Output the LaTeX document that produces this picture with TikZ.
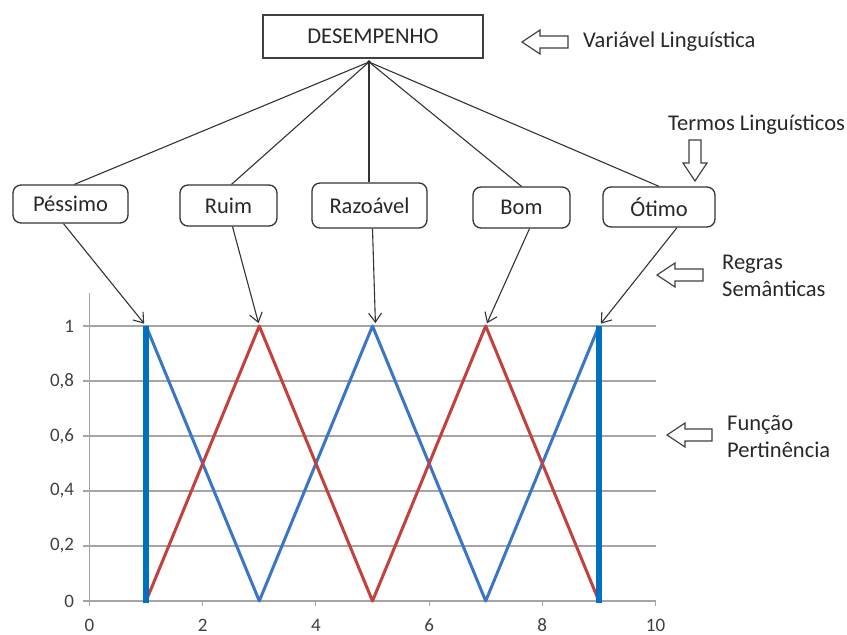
\documentclass[tikz,border=0pt]{standalone}
\usepackage{fontspec}
\setmainfont{Carlito}
\usetikzlibrary{arrows.meta,calc}
\definecolor{lineblue}{RGB}{58,118,196}
\definecolor{thickblue}{RGB}{0,112,192}
\definecolor{linered}{RGB}{196,64,60}
\definecolor{gridgray}{RGB}{165,165,165}
\definecolor{txt}{RGB}{40,40,40}
\tikzset{
  pics/hollowarrow/.style={code={
    \draw[blockarrow] (0,0) -- (18,-12) -- (18,-6) -- (#1,-6) -- (#1,6) -- (18,6) -- (18,12) -- cycle;}},
  pics/hollowarrow/.default=45
}
\begin{document}
\begin{tikzpicture}[x=1pt,y=-1pt,
  every node/.style={font=\fontsize{22.5}{27}\selectfont, text=txt},
  topbox/.style={draw=black!75, line width=1.3pt, minimum width=220pt, minimum height=43pt, inner sep=0pt},
  term/.style={draw=black!80, line width=1.3pt, rounded corners=8pt, inner sep=0pt},
  link/.style={draw=black!80, line width=1.1pt},
  sem/.style={link, shorten >=3pt, -{Straight Barb[length=9pt,width=13pt]}},
  blockarrow/.style={draw=black!75, line width=1.2pt, fill=white},
  ticklab/.style={font=\fontsize{19}{22}\selectfont, text=black!75, inner sep=0pt},
  grid line/.style={draw=gridgray, line width=1.1pt},
  mfblue/.style={draw=lineblue, line width=3pt, line join=round},
  mfred/.style={draw=linered, line width=3pt, line join=round},
  mfthick/.style={draw=thickblue, line width=6.5pt},
  sidelabel/.style={align=left, anchor=west, inner sep=0pt}
]
\useasboundingbox (0,0) rectangle (847,635);

% top variable box
\node[topbox] (desemp) at (373,36.5) {DESEMPENHO};
\coordinate (root) at (369,62);
\fill[black] (root) circle (1.8pt);

% term boxes
\node[term, minimum width=115pt, minimum height=38pt] (pess) at (70.5,204) {Péssimo};
\node[term, minimum width=97pt, minimum height=41pt] (ruim) at (228.5,205.5) {Ruim};
\node[term, minimum width=115pt, minimum height=45pt] (razo) at (369.5,205.5) {Razoável};
\node[term, minimum width=97pt, minimum height=41pt] (bom) at (521.5,207.5) {Bom};
\node[term, minimum width=112pt, minimum height=40pt] (otimo) at (659,207) {Ótimo};

\draw[link] (root) -- ([xshift=4pt]pess.north);
\draw[link] (root) -- ([xshift=3pt]ruim.north);
\draw[link] (root) -- (root |- razo.north);
\draw[link] (root) -- (bom.north);
\draw[link] (root) -- (otimo.north);

% side labels and hollow arrows
\pic at (522,42) {hollowarrow=46};
\node[sidelabel] (varl) at (583,42) {Variável Linguística};
\node[sidelabel] (terml) at (668,125) {Termos Linguísticos};
\pic[rotate=90] at (695,181) {hollowarrow=41};
\pic at (657,275) {hollowarrow=46};
\node[sidelabel] (regras) at (722,276) {Regras\\Semânticas};
\pic at (667,435) {hollowarrow=45};
\node[sidelabel] (funcao) at (727,437) {Função\\Pertinência};

% chart
\begin{scope}[shift={(89.5,601)}, x=56.6pt, y=275pt]
  \foreach \v in {0,0.2,0.4,0.6,0.8,1}
    \draw[grid line] (-0.11,\v) -- (10,\v);
  \draw[grid line] (0,0) -- (0,1.12);
  \foreach \t in {0,2,4,6,8,10}
    \draw[grid line] (\t,0) -- (\t,-0.018);
  \node[ticklab, anchor=east] (y0) at (-0.27,0) {0};
  \node[ticklab, anchor=east] (y2) at (-0.27,0.2) {0,2};
  \node[ticklab, anchor=east] (y4) at (-0.27,0.4) {0,4};
  \node[ticklab, anchor=east] (y6) at (-0.27,0.6) {0,6};
  \node[ticklab, anchor=east] (y8) at (-0.27,0.8) {0,8};
  \node[ticklab, anchor=east] (y10) at (-0.27,1) {1};
  \foreach \t in {0,2,4,6,8,10}
    \node[ticklab] (x\t) at (\t,-0.088) {\t};
  \coordinate (pe1) at (1,1);
  \coordinate (pe3) at (3,1);
  \coordinate (pe5) at (5,1);
  \coordinate (pe7) at (7,1);
  \coordinate (pe9) at (9,1);
  \draw[mfblue] (1,1) -- (3,0) -- (5,1) -- (7,0) -- (9,1);
  \draw[mfred] (1,0) -- (3,1) -- (5,0) -- (7,1) -- (9,0);
  \draw[mfthick] (1,-0.008) -- (1,1);
  \draw[mfthick] (9,-0.008) -- (9,1);
\end{scope}

% semantic rules arrows
\draw[sem] ([xshift=-7pt]pess.south) -- (pe1);
\draw[sem] ([xshift=4pt]ruim.south) -- (pe3);
\draw[sem] ([xshift=3pt]razo.south) -- ([xshift=3pt]pe5);
\draw[sem] ([xshift=8pt]bom.south) -- (pe7);
\draw[sem] ([xshift=18pt]otimo.south) -- (pe9);
\end{tikzpicture}
\end{document}
